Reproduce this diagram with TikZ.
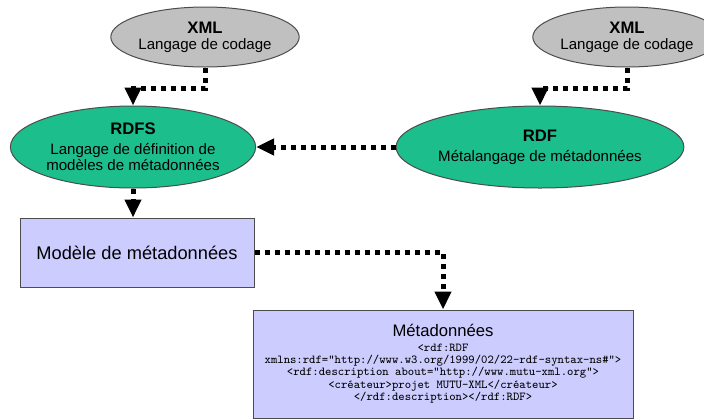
\documentclass[tikz,border=0pt]{standalone}
\usepackage{fontspec}
\setmainfont{Liberation Sans}
\usetikzlibrary{shapes.geometric,arrows.meta}

\definecolor{xmlgrey}{HTML}{C0C0C0}
\definecolor{rdfgreen}{HTML}{1CBE8B}
\definecolor{boxblue}{HTML}{CCCCFF}

\newcommand{\titlefont}{\fontsize{12.5}{15}\selectfont}
\newcommand{\subfont}{\fontsize{11.3}{13.5}\selectfont}
\newcommand{\codefont}{\ttfamily\fontsize{9.1}{9.3}\selectfont}

\tikzset{
  greyellipse/.style={ellipse, draw=black!70, line width=0.75pt, fill=xmlgrey,
    minimum width=131.25pt, minimum height=45pt, inner sep=0pt, align=center},
  greenellipse/.style={ellipse, draw=black!70, line width=0.75pt, fill=rdfgreen,
    minimum height=61.5pt, inner sep=0pt, align=center},
  metabox/.style={rectangle, draw=black!70, line width=0.75pt, fill=boxblue,
    inner sep=0pt, align=center},
  flow/.style={line width=3.75pt, dash pattern=on 3.75pt off 3.75pt,
    -{Triangle[width=12pt,length=13.5pt]}}
}

\begin{document}
\begin{tikzpicture}[x=0.75pt,y=-0.75pt]
  \useasboundingbox (0,0) rectangle (704,419);

  % The languages
  \node[greyellipse] (xmlL) at (205,37)
    {{\titlefont\bfseries XML}\\{\subfont Langage de codage}};
  \node[greyellipse] (xmlR) at (627,37)
    {{\titlefont\bfseries XML}\\{\subfont Langage de codage}};
  \node[greenellipse, minimum width=180pt] (rdfs) at (133,147)
    {{\titlefont\bfseries RDFS}\\[3pt]{\subfont Langage de définition de}\\{\subfont modèles de métadonnées}};
  \node[greenellipse, minimum width=192.75pt] (rdf) at (540,147)
    {{\titlefont\bfseries RDF}\\[3pt]{\subfont Métalangage de métadonnées}};

  % The models
  \node[metabox, minimum width=175.5pt, minimum height=51.75pt] (model) at (137,252.5)
    {\fontsize{13.7}{16}\selectfont Modèle de métadonnées};
  \node[metabox, font=\codefont, minimum width=285pt, minimum height=81pt] (meta) at (443,364)
    {{\rmfamily\titlefont Métadonnées}\\[1.5pt]
     <rdf:RDF\\
     xmlns:rdf="http://www.w3.org/1999/02/22-rdf-syntax-ns\#">\\
     <rdf:description about="http://www.mutu-xml.org">\\
     <créateur>projet MUTU-XML</créateur>\\
     </rdf:description></rdf:RDF>};

  % The links
  \draw[flow] (xmlL.south) -- ++(0,21) -| (rdfs.north);
  \draw[flow] (xmlR.south) -- ++(0,21) -| (rdf.north);
  \draw[flow] (rdf.west) -- (rdfs.east);
  \draw[flow] (rdfs.south) -- (rdfs.south |- model.north);
  \draw[flow] (model.east) -| (meta.north);
\end{tikzpicture}
\end{document}
